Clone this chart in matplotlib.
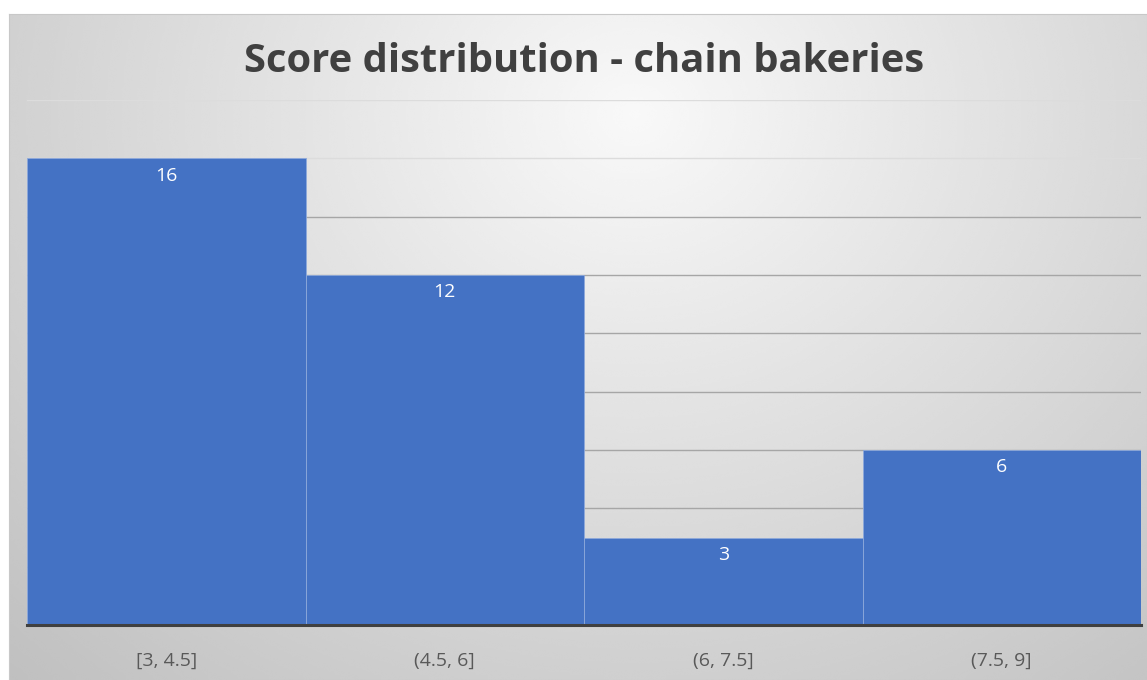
import numpy as np
import matplotlib.pyplot as plt

# Datos del histograma
bins = ["[3, 4.5]", "(4.5, 6]", "(6, 7.5]", "(7.5, 9]"]
counts = [16, 12, 3, 6]
grid_levels = [2, 4, 6, 8, 10, 12, 14, 16, 18]

W, H = 1147, 680
fig = plt.figure(figsize=(W / 100, H / 100), dpi=100)
fig.patch.set_facecolor("white")

# Fondo con degradado radial (estilo Excel)
bg = fig.add_axes([9 / W, 0, (W - 9) / W, (H - 14) / H])
yy, xx = np.mgrid[0:1:300j, 0:1:500j]
r = np.sqrt(((xx - 0.55) / 0.75) ** 2 + ((yy - 0.85) / 1.1) ** 2)
vals = np.clip(0.975 - 0.21 * r, 0, 1)
bg.imshow(vals, cmap="gray", vmin=0, vmax=1, origin="lower", aspect="auto",
          extent=[0, 1, 0, 1], interpolation="bicubic")
bg.set_xticks([])
bg.set_yticks([])
for s in bg.spines.values():
    s.set_color("#c8c8c8")
    s.set_linewidth(0.8)

ax = fig.add_axes([27 / W, 55 / H, (1141 - 27) / W, (625 - 100) / H])
ax.set_facecolor("none")

x = np.arange(len(bins))
bars = ax.bar(x, counts, width=1.0, color="#4472C4", edgecolor="#8ea9db",
              linewidth=0.6, zorder=2)

ax.set_xlim(-0.5, len(bins) - 0.5)
ax.set_ylim(0, 18)

# Líneas de cuadrícula
for g in grid_levels:
    col = "#dcdcdc" if g >= 16 else "#a6a6a6"
    ax.axhline(g, color=col, linewidth=1.0, zorder=1)

for b, c in zip(bars, counts):
    ax.annotate(str(c), (b.get_x() + b.get_width() / 2, c), xytext=(0, -6),
                textcoords="offset points", ha="center", va="top",
                color="white", fontsize=14, family="Open Sans", zorder=3)

ax.set_xticks(x)
ax.set_xticklabels(bins, fontsize=14, color="#595959", family="Open Sans")
ax.tick_params(axis="x", length=0, pad=19)
ax.set_yticks([])
for s in ["top", "right", "left"]:
    ax.spines[s].set_visible(False)
ax.spines["bottom"].set_color("#404040")
ax.spines["bottom"].set_linewidth(2.2)
ax.spines["bottom"].set_zorder(4)

fig.text(584 / W, 1 - 62 / H, "Score distribution - chain bakeries",
         ha="center", va="center", fontsize=28.8, fontweight="bold",
         color="#404040", family="Open Sans")

fig.savefig("out.png", dpi=100)
